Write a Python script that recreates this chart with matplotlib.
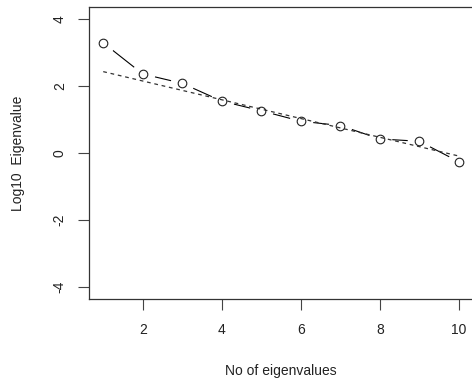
import matplotlib
matplotlib.use("Agg")
import matplotlib.pyplot as plt

# eigenvalue index and log10 eigenvalues
n_eigen = [1, 2, 3, 4, 5, 6, 7, 8, 9, 10]
log_eigen = [3.29, 2.36, 2.08, 1.55, 1.26, 0.95, 0.82, 0.42, 0.35, -0.26]
# dashed reference line
ref_line = [2.43, 2.15, 1.87, 1.59, 1.31, 1.03, 0.75, 0.47, 0.19, -0.09]

x_ticks = [2, 4, 6, 8, 10]
y_ticks = [-4, -2, 0, 2, 4]

plt.rcParams['font.family'] = ['Liberation Sans', 'DejaVu Sans']

fig = plt.figure(figsize=(4.72, 3.80), dpi=100)
ax = fig.add_axes([89 / 472, 1 - 299 / 380, 384 / 472, 292 / 380])

# solid line with gaps around the points (R type="b")
ax.plot(n_eigen, log_eigen, color='black', lw=0.8, zorder=1)
ax.plot(n_eigen, log_eigen, ls='none', marker='o', ms=17,
        markerfacecolor='white', markeredgecolor='none', zorder=2)
ax.plot(n_eigen, ref_line, color='#333333', lw=0.9, ls=(0, (3, 3)), zorder=3)
ax.plot(n_eigen, log_eigen, ls='none', marker='o', ms=6.2,
        markerfacecolor='none', markeredgecolor='#222222', markeredgewidth=0.8, zorder=4)

ax.set_xlim(0.64, 10.36)
ax.set_ylim(-4.36, 4.36)
ax.set_xticks(x_ticks)
ax.set_yticks(y_ticks)
ax.set_yticklabels([str(v) for v in y_ticks], rotation=90, va='center')

ax.tick_params(direction='out', length=8, width=0.8, color='#444444',
               labelsize=10, labelcolor='#222222', pad=9)
ax.tick_params(axis='y', pad=8)
for s in ax.spines.values():
    s.set_color('#333333')
    s.set_linewidth(0.9)

ax.set_xlabel('No of eigenvalues', fontsize=10, color='#222222', labelpad=20)
ax.set_ylabel('Log10  Eigenvalue', fontsize=10, color='#222222', labelpad=20)

fig.savefig('out.png', dpi=100)
